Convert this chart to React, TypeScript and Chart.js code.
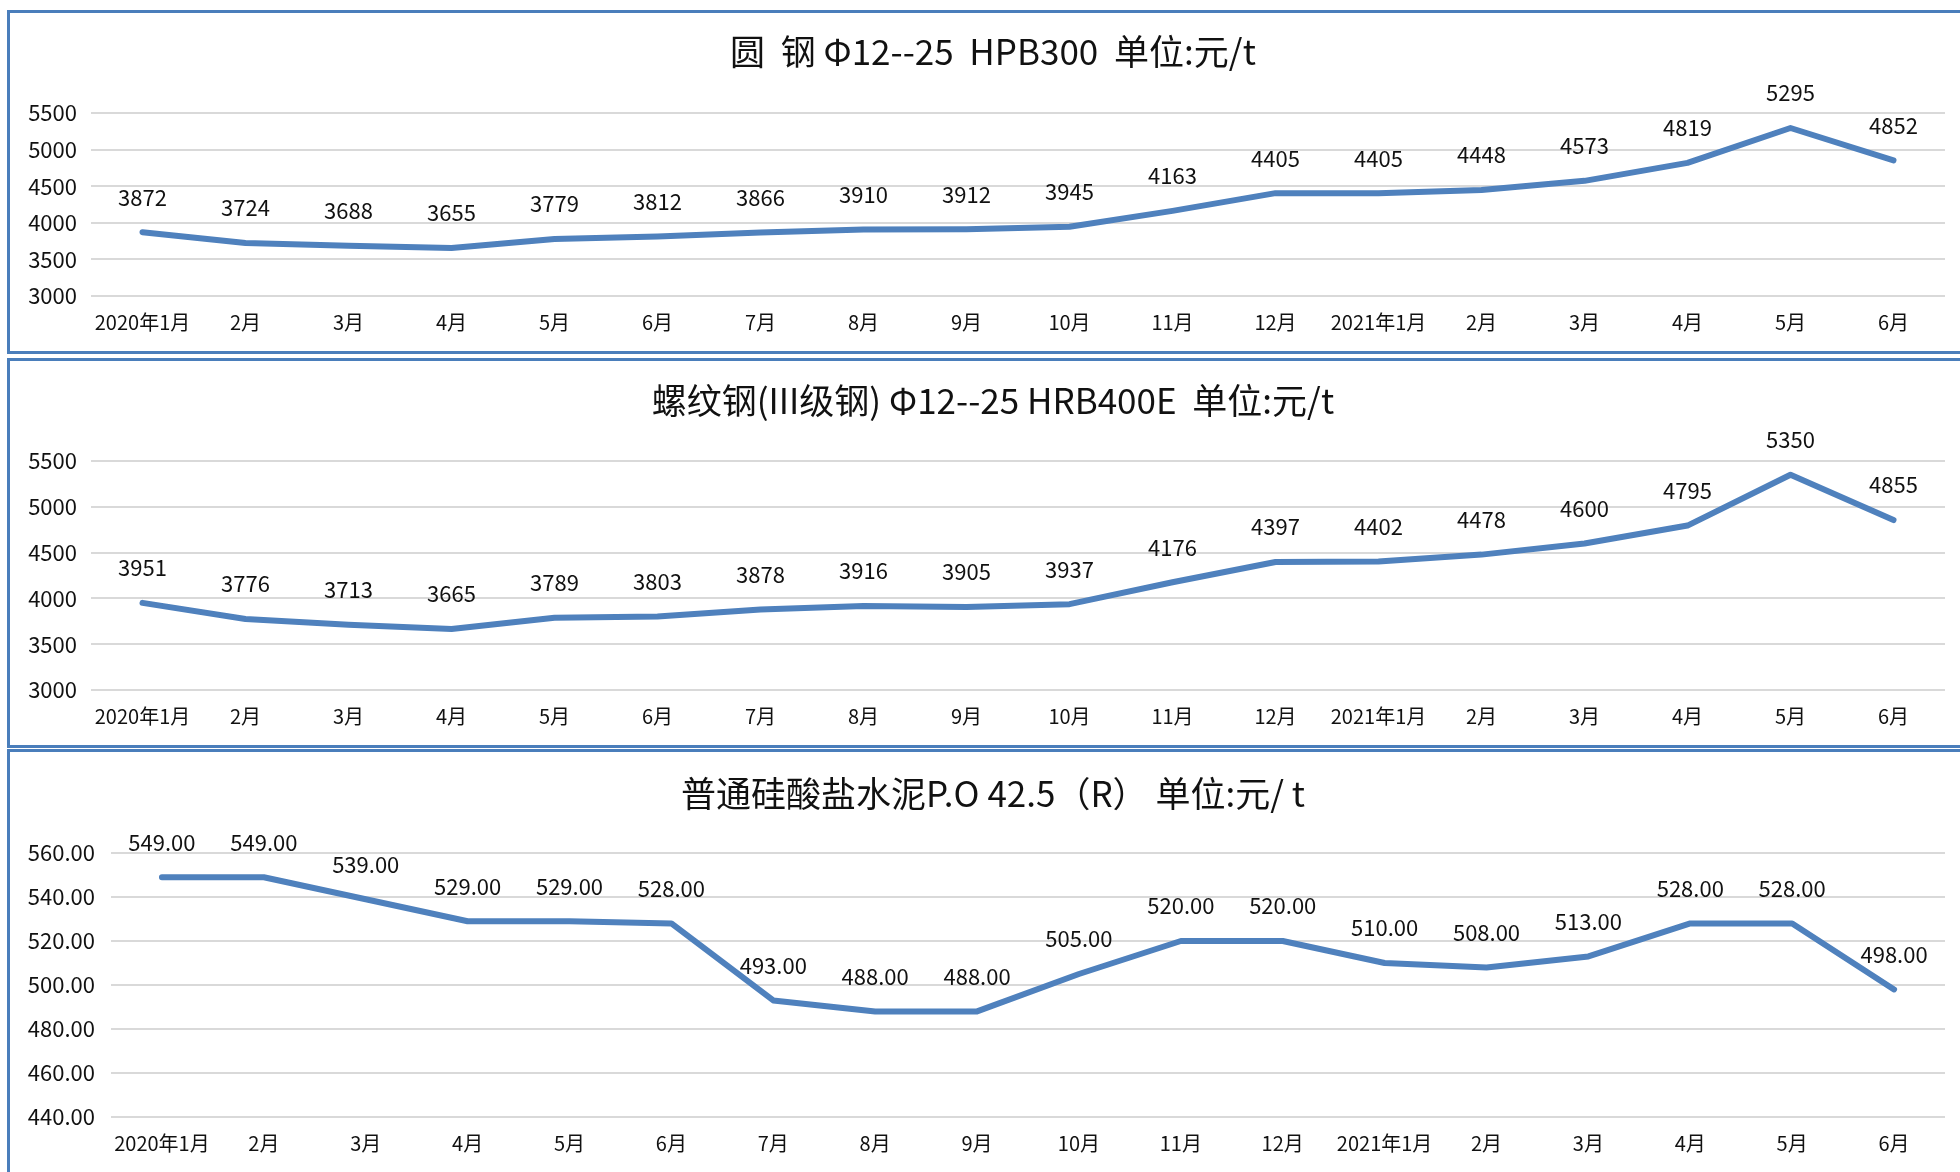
import React, { useEffect, useRef } from "react";
import { Chart, registerables } from "chart.js";

Chart.register(...registerables);

const categories = [
  "2020年1月", "2月", "3月", "4月", "5月", "6月", "7月", "8月", "9月", "10月", "11月", "12月",
  "2021年1月", "2月", "3月", "4月", "5月", "6月",
];

const roundSteel = [3872, 3724, 3688, 3655, 3779, 3812, 3866, 3910, 3912, 3945, 4163, 4405, 4405, 4448, 4573, 4819, 5295, 4852];
const rebar = [3951, 3776, 3713, 3665, 3789, 3803, 3878, 3916, 3905, 3937, 4176, 4397, 4402, 4478, 4600, 4795, 5350, 4855];
const cement = [549, 549, 539, 529, 529, 528, 493, 488, 488, 505, 520, 520, 510, 508, 513, 528, 528, 498];

const title1 = "圆  钢 Φ12--25  HPB300  单位:元/t";
const title2 = "螺纹钢(III级钢) Φ12--25 HRB400E  单位:元/t";
const title3 = "普通硅酸盐水泥P.O 42.5（R） 单位:元/ t";

const steelAxis = { min: 3000, max: 5500, step: 500 };
const cementAxis = { min: 440, max: 560, step: 20 };

const FONT = "'Noto Sans CJK SC', 'Noto Sans', sans-serif";
const LINE = "#4f81bd";
const BORDER = "#4a7ebb";
const PAD_RIGHT = 15;
const TITLE_BOX_LEFT = 41;

const valueLabels = {
  id: "valueLabels",
  afterLayout(chart: any) {
    if (chart.titleBlock) chart.titleBlock.left = TITLE_BOX_LEFT;
  },
  afterDatasetsDraw(chart: any, _args: any, opts: any) {
    const ctx = chart.ctx;
    const meta = chart.getDatasetMeta(0);
    const data = chart.data.datasets[0].data as number[];
    ctx.save();
    ctx.font = `${opts.size || 22}px ${FONT}`;
    ctx.fillStyle = "#111";
    ctx.textAlign = "center";
    ctx.textBaseline = "middle";
    meta.data.forEach((pt: any, i: number) => {
      const v = data[i];
      ctx.fillText(v.toFixed(opts.decimals || 0), pt.x, pt.y - (opts.offset || 35));
    });
    ctx.restore();
  },
};

type PanelProps = {
  top: number;
  height: number;
  data: number[];
  title: string;
  axis: { min: number; max: number; step: number };
  decimals: number;
  plotLeft: number;
  yPad: number;
  titleTop: number;
  titleBottom: number;
  xHeight: number;
};

const TITLE_SIZE = 35;

function Panel(p: PanelProps) {
  const ref = useRef<HTMLCanvasElement | null>(null);
  useEffect(() => {
    if (!ref.current) return;
    const chart = new Chart(ref.current, {
      type: "line",
      data: {
        labels: categories,
        datasets: [
          {
            data: p.data,
            borderColor: LINE,
            borderWidth: 6,
            pointRadius: 0,
            tension: 0,
            borderCapStyle: "round",
            borderJoinStyle: "round",
            fill: false,
          },
        ],
      },
      options: {
        responsive: false,
        animation: false,
        events: [],
        layout: { padding: { left: 0, right: PAD_RIGHT, top: 0, bottom: 0 } },
        plugins: {
          legend: { display: false },
          tooltip: { enabled: false },
          title: {
            display: true,
            text: p.title,
            color: "#111",
            font: { family: FONT, size: TITLE_SIZE, weight: "normal", lineHeight: 1 },
            padding: { top: p.titleTop, bottom: p.titleBottom },
          },
          valueLabels: { decimals: p.decimals, offset: 35, size: 22 },
        } as any,
        scales: {
          x: {
            offset: true,
            grid: { display: false, drawTicks: false },
            border: { display: false },
            ticks: {
              color: "#111",
              font: { family: FONT, size: 20 },
              padding: 14,
              maxRotation: 0,
              autoSkip: false,
            },
            afterFit: (s: any) => {
              s.height = p.xHeight;
            },
          },
          y: {
            min: p.axis.min,
            max: p.axis.max,
            grid: { color: "#d9d9d9", lineWidth: 2, drawTicks: false },
            border: { display: false },
            ticks: {
              stepSize: p.axis.step,
              color: "#111",
              font: { family: FONT, size: 22 },
              padding: p.yPad,
              callback: (v: any) => Number(v).toFixed(p.decimals ? 2 : 0),
            },
            afterFit: (s: any) => {
              s.width = p.plotLeft;
            },
          },
        },
      },
      plugins: [valueLabels],
    });
    return () => chart.destroy();
  }, []);
  return (
    <canvas
      ref={ref}
      width={1960}
      height={p.height}
      style={{ position: "absolute", left: 0, top: p.top, width: 1960, height: p.height }}
    />
  );
}

export default function App() {
  const box = (top: number, height: number) => ({
    position: "absolute" as const,
    left: 7,
    top,
    width: 2100,
    height,
    boxSizing: "border-box" as const,
    border: `3px solid ${BORDER}`,
    pointerEvents: "none" as const,
  });
  const h = TITLE_SIZE / 2;
  return (
    <div
      style={{
        position: "absolute",
        left: 0,
        top: 0,
        width: 1960,
        height: 1172,
        overflow: "hidden",
        background: "#fff",
      }}
    >
      <Panel top={0} height={356} data={roundSteel} title={title1} axis={steelAxis} decimals={0}
        plotLeft={91} yPad={14} titleTop={52 - h} titleBottom={113 - 52 - h} xHeight={60} />
      <Panel top={356} height={392} data={rebar} title={title2} axis={steelAxis} decimals={0}
        plotLeft={91} yPad={14} titleTop={45 - h} titleBottom={105 - 45 - h} xHeight={58} />
      <Panel top={748} height={424} data={cement} title={title3} axis={cementAxis} decimals={2}
        plotLeft={111} yPad={16} titleTop={46 - h} titleBottom={105 - 46 - h} xHeight={55} />
      <div style={box(10, 344)} />
      <div style={box(358, 390)} />
      <div style={box(749, 600)} />
    </div>
  );
}
